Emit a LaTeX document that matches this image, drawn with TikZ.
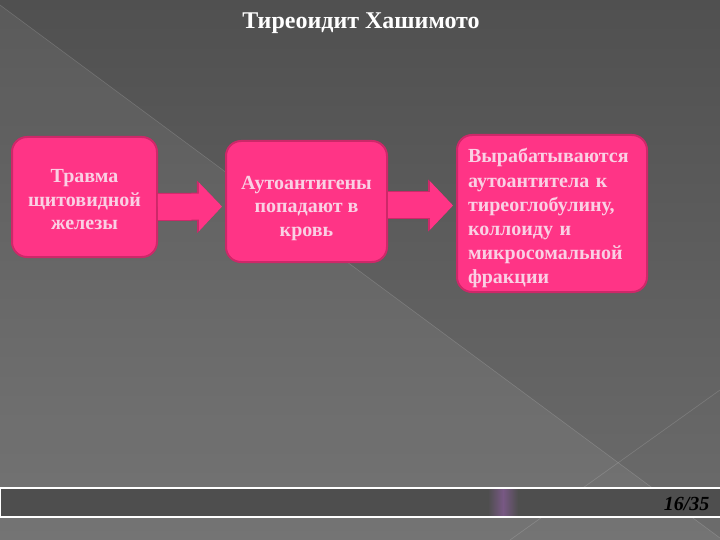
\documentclass[tikz,border=0pt]{standalone}
\usepackage{fontspec}
\setmainfont{Liberation Serif}
\usetikzlibrary{arrows.meta,calc}
\definecolor{boxpink}{RGB}{255,52,134}
\definecolor{boxrim}{RGB}{205,40,105}
\definecolor{boxtext}{RGB}{250,208,228}
\definecolor{bgdark}{RGB}{80,80,80}
\definecolor{bglight}{RGB}{108,108,108}
\definecolor{barfill}{RGB}{78,78,78}
\definecolor{barglow}{RGB}{120,88,132}
\newcommand{\padtop}[1]{\rule{0pt}{#1}}
\begin{document}
\begin{tikzpicture}[x=1pt, y=-1pt,
		stepbox/.style={draw=boxrim, line width=2pt, fill=boxpink, rounded corners=15pt, inner sep=0pt,
			text=boxtext, font=\fontsize{20}{23.5}\selectfont\bfseries},
		bigarrow/.style={boxpink, line width=26pt, shorten >=3pt, -{Triangle[length=23pt, width=47pt]},
			preaction={draw=boxrim, line width=28pt, -{Triangle[length=25pt, width=51pt]}}}]
		\useasboundingbox (0,0) rectangle (720,540);
		\shade[top color=bgdark, bottom color=bglight] (0,0) rectangle (720,540);
		\fill[white, opacity=0.06] (0,5) -- (720,538) -- (720,540) -- (0,540) -- cycle;
		\draw[white, opacity=0.15, line width=0.6pt] (0,5) -- (720,538);
		\draw[white, opacity=0.15, line width=0.6pt] (720,390) -- (510,540);

		\node[font=\fontsize{24}{28}\selectfont\bfseries, text=white] (title) at (361,23) {Тиреоидит Хашимото};

		\node[stepbox, minimum width=145pt, minimum height=120pt, align=center] (trauma) at (84.5,197)
			{\padtop{19pt}Травма\\щитовидной\\железы};
		\node[stepbox, minimum width=161pt, minimum height=121pt, align=center] (antigen) at (306.5,201.5)
			{\padtop{27pt}Аутоантигены\\попадают в\\кровь};
		\node[stepbox, font=\fontsize{20}{24.2}\selectfont\bfseries, minimum width=190pt, minimum height=157pt,
			text width=168pt, align=left] (antibody) at (552,213.5)
			{\padtop{24pt}Вырабатываются\\аутоантитела к\\тиреоглобулину,\\коллоиду и\\микросомальной\\фракции};

		\draw[bigarrow] ([yshift=-10pt]trauma.east) -- ([yshift=-5pt]antigen.west);
		\draw[bigarrow] ([yshift=-4pt]antigen.east) -- ([yshift=8pt]antibody.west);

		\fill[barfill] (0,488) rectangle (721,517);
		\shade[left color=barfill, right color=barfill, middle color=barglow] (488,489) rectangle (518,516);
		\draw[white, line width=1.2pt] (721,488) -- (0.6,488) -- (0.6,517) -- (721,517);
		\node[font=\fontsize{20}{22}\selectfont\bfseries\itshape, anchor=east] (page) at (713,504) {16/35};
	\end{tikzpicture}
\end{document}
